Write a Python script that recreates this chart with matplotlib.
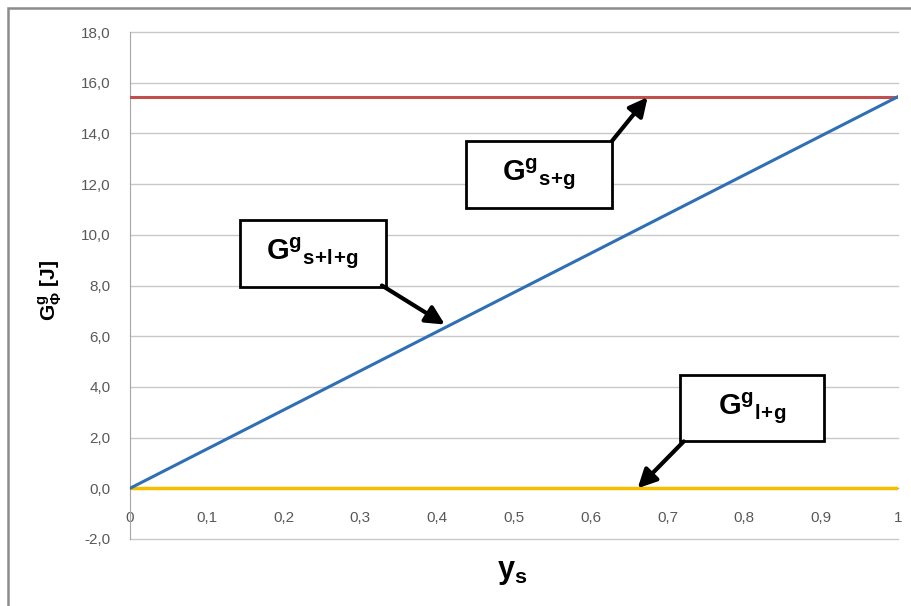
import matplotlib
matplotlib.use("Agg")
import matplotlib.pyplot as plt
from matplotlib.patches import Rectangle
from matplotlib.ticker import FuncFormatter, MultipleLocator

plt.rcParams['font.family'] = ['Liberation Sans', 'DejaVu Sans']
plt.rcParams['mathtext.fontset'] = 'custom'
plt.rcParams['mathtext.rm'] = 'Liberation Sans'
plt.rcParams['mathtext.bf'] = 'Liberation Sans:bold'
plt.rcParams['mathtext.it'] = 'Liberation Sans:italic'

# data
ys = [0.0, 1.0]
G_s_g = [15.45, 15.45]
G_s_l_g = [0.0, 15.45]
G_l_g = [0.0, 0.0]

fig = plt.figure(figsize=(9.12, 6.06), dpi=100)
ax = fig.add_axes([130/912, 1-539/606, 768/912, 507/606])

# outer frame
fig.patches.append(Rectangle((8/912, -0.1), 1.2, 1-8/606+0.1, transform=fig.transFigure,
                             fill=False, edgecolor='#8c8c8c', lw=1.8))

ax.plot(ys, G_l_g, color='#f5bf00', lw=2.5, zorder=3)
ax.plot(ys, G_s_l_g, color='#2f6fb5', lw=2.2, zorder=4)
ax.plot(ys, G_s_g, color='#c0504d', lw=2.2, zorder=3)

ax.set_xlim(0, 1)
ax.set_ylim(-2, 18)
ax.yaxis.set_major_locator(MultipleLocator(2))
ax.xaxis.set_major_locator(MultipleLocator(0.1))
ax.yaxis.set_major_formatter(FuncFormatter(lambda v, p: f"{v:.1f}".replace('.', ',').replace('-0,0', '0,0')))
def xf(v, p):
    if abs(v) < 1e-9:
        return "0"
    if abs(v-1) < 1e-9:
        return "1"
    return f"{v:.1f}".replace('.', ',')
ax.xaxis.set_major_formatter(FuncFormatter(xf))

ax.grid(axis='y', color='#c8c8c8', lw=1)
for gl in ax.get_ygridlines():
    gl.set_clip_on(False)
ax.set_axisbelow(True)
for s in ['top', 'right']:
    ax.spines[s].set_visible(False)
ax.spines['left'].set_color('#a6a6a6')
ax.spines['bottom'].set_position(('data', 0))
ax.spines['bottom'].set_color('#a6a6a6')
ax.tick_params(axis='both', length=0, labelsize=11, labelcolor='#595959')
ax.tick_params(axis='y', pad=14)
ax.tick_params(axis='x', pad=16)

fig.text(50/912, 1-290/606, r'$\mathbf{G^{g}_{\Phi}}$ [J]', rotation=90, fontsize=15,
         fontweight='bold', ha='center', va='center')
fig.text(512/912, 1-572/606, r'$\mathbf{y_s}$', fontsize=22, ha='center', va='center')

def box(x0, x1, y0, y1, label, arrow_from, arrow_to):
    ax.add_patch(Rectangle((x0, y0), x1-x0, y1-y0, facecolor='white', edgecolor='black',
                           lw=2, zorder=6))
    ax.text((x0+x1)/2, (y0+y1)/2, label, ha='center', va='center', fontsize=21, zorder=7)
    ax.annotate('', xy=arrow_to, xytext=arrow_from, zorder=7,
                arrowprops=dict(arrowstyle='-|>', lw=3, color='black', mutation_scale=28,
                                shrinkA=0, shrinkB=0))

box(0.4375, 0.6276, 11.06, 13.70, r'$\mathbf{G^{g}{}_{s\!+\!g}}$', (0.6276, 13.70), (0.674, 15.43))
box(0.143, 0.333, 7.95, 10.59, r'$\mathbf{G^{g}{}_{s\!+\!l\!+\!g}}$', (0.328, 8.0), (0.410, 6.46))
box(0.716, 0.904, 1.85, 4.45, r'$\mathbf{G^{g}{}_{l\!+\!g}}$', (0.721, 1.85), (0.661, 0.0))

fig.savefig('out.png', dpi=100)
